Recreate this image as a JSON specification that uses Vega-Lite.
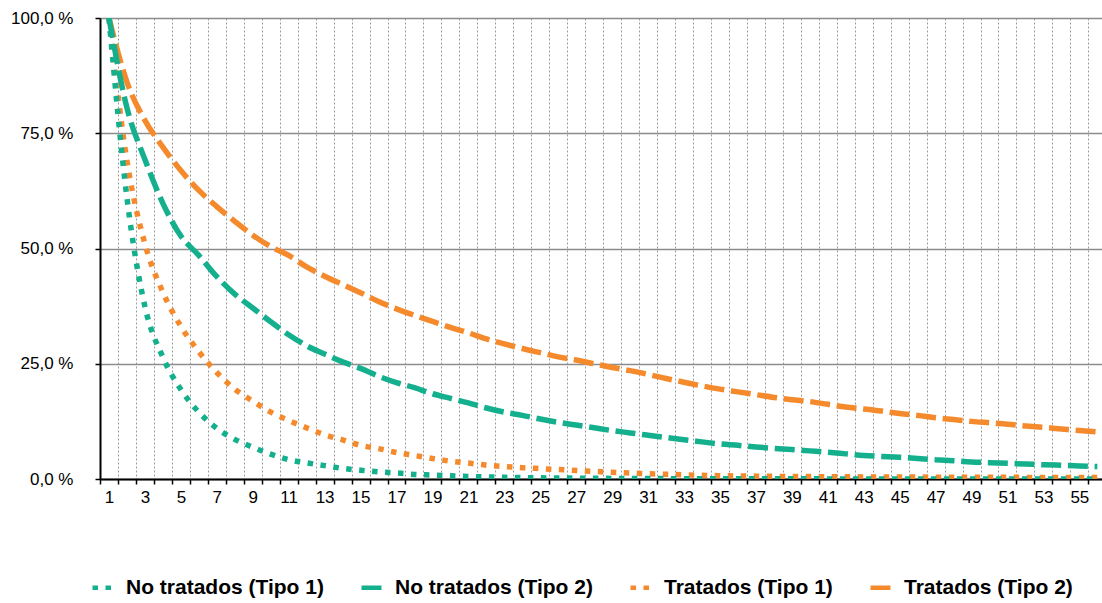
{
  "$schema": "https://vega.github.io/schema/vega-lite/v6.json",
  "width": 1002,
  "height": 461,
  "autosize": {"type": "none"},
  "padding": {"left": 100, "top": 18, "right": 0, "bottom": 124},
  "background": "white",
  "config": {
    "view": {"stroke": null},
    "font": "Liberation Sans"
  },
  "data": {
    "values": [
      {"dia":1,"No tratados (Tipo 1)":100,"No tratados (Tipo 2)":100,"Tratados (Tipo 1)":100,"Tratados (Tipo 2)":100},
      {"dia":2,"No tratados (Tipo 1)":61,"No tratados (Tipo 2)":80.5,"Tratados (Tipo 1)":69,"Tratados (Tipo 2)":86.1},
      {"dia":3,"No tratados (Tipo 1)":37.4,"No tratados (Tipo 2)":69.3,"Tratados (Tipo 1)":51,"Tratados (Tipo 2)":77.8},
      {"dia":4,"No tratados (Tipo 1)":26.4,"No tratados (Tipo 2)":59.8,"Tratados (Tipo 1)":40.5,"Tratados (Tipo 2)":72},
      {"dia":5,"No tratados (Tipo 1)":19.4,"No tratados (Tipo 2)":52.7,"Tratados (Tipo 1)":33.1,"Tratados (Tipo 2)":66.9},
      {"dia":6,"No tratados (Tipo 1)":14.5,"No tratados (Tipo 2)":48.5,"Tratados (Tipo 1)":27.6,"Tratados (Tipo 2)":62.6},
      {"dia":7,"No tratados (Tipo 1)":11,"No tratados (Tipo 2)":43.9,"Tratados (Tipo 1)":23.1,"Tratados (Tipo 2)":59.1},
      {"dia":8,"No tratados (Tipo 1)":8.6,"No tratados (Tipo 2)":40.1,"Tratados (Tipo 1)":19.5,"Tratados (Tipo 2)":55.9},
      {"dia":9,"No tratados (Tipo 1)":6.9,"No tratados (Tipo 2)":37.1,"Tratados (Tipo 1)":16.9,"Tratados (Tipo 2)":52.9},
      {"dia":10,"No tratados (Tipo 1)":5.4,"No tratados (Tipo 2)":34.1,"Tratados (Tipo 1)":14.5,"Tratados (Tipo 2)":50.4},
      {"dia":11,"No tratados (Tipo 1)":4.2,"No tratados (Tipo 2)":31.3,"Tratados (Tipo 1)":12.7,"Tratados (Tipo 2)":48.5},
      {"dia":12,"No tratados (Tipo 1)":3.5,"No tratados (Tipo 2)":28.9,"Tratados (Tipo 1)":11.1,"Tratados (Tipo 2)":46},
      {"dia":13,"No tratados (Tipo 1)":2.9,"No tratados (Tipo 2)":27.1,"Tratados (Tipo 1)":9.6,"Tratados (Tipo 2)":44},
      {"dia":14,"No tratados (Tipo 1)":2.3,"No tratados (Tipo 2)":25.4,"Tratados (Tipo 1)":8.5,"Tratados (Tipo 2)":42.2},
      {"dia":15,"No tratados (Tipo 1)":1.9,"No tratados (Tipo 2)":24,"Tratados (Tipo 1)":7.3,"Tratados (Tipo 2)":40.4},
      {"dia":16,"No tratados (Tipo 1)":1.55,"No tratados (Tipo 2)":22.3,"Tratados (Tipo 1)":6.6,"Tratados (Tipo 2)":38.5},
      {"dia":17,"No tratados (Tipo 1)":1.3,"No tratados (Tipo 2)":20.9,"Tratados (Tipo 1)":5.75,"Tratados (Tipo 2)":36.9},
      {"dia":18,"No tratados (Tipo 1)":1.0,"No tratados (Tipo 2)":19.8,"Tratados (Tipo 1)":5.1,"Tratados (Tipo 2)":35.5},
      {"dia":19,"No tratados (Tipo 1)":0.85,"No tratados (Tipo 2)":18.5,"Tratados (Tipo 1)":4.45,"Tratados (Tipo 2)":34.2},
      {"dia":20,"No tratados (Tipo 1)":0.7,"No tratados (Tipo 2)":17.5,"Tratados (Tipo 1)":3.85,"Tratados (Tipo 2)":32.9},
      {"dia":21,"No tratados (Tipo 1)":0.55,"No tratados (Tipo 2)":16.5,"Tratados (Tipo 1)":3.45,"Tratados (Tipo 2)":31.7},
      {"dia":22,"No tratados (Tipo 1)":0.45,"No tratados (Tipo 2)":15.4,"Tratados (Tipo 1)":3.0,"Tratados (Tipo 2)":30.4},
      {"dia":23,"No tratados (Tipo 1)":0.36,"No tratados (Tipo 2)":14.5,"Tratados (Tipo 1)":2.7,"Tratados (Tipo 2)":29.3},
      {"dia":24,"No tratados (Tipo 1)":0.3,"No tratados (Tipo 2)":13.8,"Tratados (Tipo 1)":2.45,"Tratados (Tipo 2)":28.3},
      {"dia":25,"No tratados (Tipo 1)":0.25,"No tratados (Tipo 2)":13,"Tratados (Tipo 1)":2.25,"Tratados (Tipo 2)":27.4},
      {"dia":26,"No tratados (Tipo 1)":0.21,"No tratados (Tipo 2)":12.3,"Tratados (Tipo 1)":2.05,"Tratados (Tipo 2)":26.5},
      {"dia":27,"No tratados (Tipo 1)":0.18,"No tratados (Tipo 2)":11.7,"Tratados (Tipo 1)":1.85,"Tratados (Tipo 2)":25.8},
      {"dia":28,"No tratados (Tipo 1)":0.15,"No tratados (Tipo 2)":11.1,"Tratados (Tipo 1)":1.65,"Tratados (Tipo 2)":25},
      {"dia":29,"No tratados (Tipo 1)":0.13,"No tratados (Tipo 2)":10.5,"Tratados (Tipo 1)":1.45,"Tratados (Tipo 2)":24.2},
      {"dia":30,"No tratados (Tipo 1)":0.11,"No tratados (Tipo 2)":10,"Tratados (Tipo 1)":1.3,"Tratados (Tipo 2)":23.5},
      {"dia":31,"No tratados (Tipo 1)":0.09,"No tratados (Tipo 2)":9.5,"Tratados (Tipo 1)":1.15,"Tratados (Tipo 2)":22.7},
      {"dia":32,"No tratados (Tipo 1)":0.08,"No tratados (Tipo 2)":9,"Tratados (Tipo 1)":1.02,"Tratados (Tipo 2)":21.8},
      {"dia":33,"No tratados (Tipo 1)":0.07,"No tratados (Tipo 2)":8.5,"Tratados (Tipo 1)":0.9,"Tratados (Tipo 2)":21},
      {"dia":34,"No tratados (Tipo 1)":0.06,"No tratados (Tipo 2)":8.05,"Tratados (Tipo 1)":0.8,"Tratados (Tipo 2)":20.2},
      {"dia":35,"No tratados (Tipo 1)":0.05,"No tratados (Tipo 2)":7.6,"Tratados (Tipo 1)":0.72,"Tratados (Tipo 2)":19.5},
      {"dia":36,"No tratados (Tipo 1)":0.045,"No tratados (Tipo 2)":7.3,"Tratados (Tipo 1)":0.66,"Tratados (Tipo 2)":18.9},
      {"dia":37,"No tratados (Tipo 1)":0.04,"No tratados (Tipo 2)":6.95,"Tratados (Tipo 1)":0.62,"Tratados (Tipo 2)":18.3},
      {"dia":38,"No tratados (Tipo 1)":0.036,"No tratados (Tipo 2)":6.65,"Tratados (Tipo 1)":0.58,"Tratados (Tipo 2)":17.7},
      {"dia":39,"No tratados (Tipo 1)":0.032,"No tratados (Tipo 2)":6.4,"Tratados (Tipo 1)":0.55,"Tratados (Tipo 2)":17.2},
      {"dia":40,"No tratados (Tipo 1)":0.029,"No tratados (Tipo 2)":6.1,"Tratados (Tipo 1)":0.52,"Tratados (Tipo 2)":16.8},
      {"dia":41,"No tratados (Tipo 1)":0.026,"No tratados (Tipo 2)":5.8,"Tratados (Tipo 1)":0.5,"Tratados (Tipo 2)":16.2},
      {"dia":42,"No tratados (Tipo 1)":0.023,"No tratados (Tipo 2)":5.45,"Tratados (Tipo 1)":0.48,"Tratados (Tipo 2)":15.6},
      {"dia":43,"No tratados (Tipo 1)":0.02,"No tratados (Tipo 2)":5.1,"Tratados (Tipo 1)":0.46,"Tratados (Tipo 2)":15.2},
      {"dia":44,"No tratados (Tipo 1)":0.018,"No tratados (Tipo 2)":4.9,"Tratados (Tipo 1)":0.44,"Tratados (Tipo 2)":14.75},
      {"dia":45,"No tratados (Tipo 1)":0.016,"No tratados (Tipo 2)":4.7,"Tratados (Tipo 1)":0.42,"Tratados (Tipo 2)":14.2},
      {"dia":46,"No tratados (Tipo 1)":0.014,"No tratados (Tipo 2)":4.45,"Tratados (Tipo 1)":0.41,"Tratados (Tipo 2)":13.8},
      {"dia":47,"No tratados (Tipo 1)":0.013,"No tratados (Tipo 2)":4.2,"Tratados (Tipo 1)":0.4,"Tratados (Tipo 2)":13.3},
      {"dia":48,"No tratados (Tipo 1)":0.012,"No tratados (Tipo 2)":3.95,"Tratados (Tipo 1)":0.39,"Tratados (Tipo 2)":12.9},
      {"dia":49,"No tratados (Tipo 1)":0.011,"No tratados (Tipo 2)":3.7,"Tratados (Tipo 1)":0.38,"Tratados (Tipo 2)":12.5},
      {"dia":50,"No tratados (Tipo 1)":0.01,"No tratados (Tipo 2)":3.55,"Tratados (Tipo 1)":0.37,"Tratados (Tipo 2)":12.2},
      {"dia":51,"No tratados (Tipo 1)":0.009,"No tratados (Tipo 2)":3.4,"Tratados (Tipo 1)":0.36,"Tratados (Tipo 2)":11.9},
      {"dia":52,"No tratados (Tipo 1)":0.008,"No tratados (Tipo 2)":3.25,"Tratados (Tipo 1)":0.35,"Tratados (Tipo 2)":11.5},
      {"dia":53,"No tratados (Tipo 1)":0.007,"No tratados (Tipo 2)":3.1,"Tratados (Tipo 1)":0.34,"Tratados (Tipo 2)":11.2},
      {"dia":54,"No tratados (Tipo 1)":0.006,"No tratados (Tipo 2)":2.97,"Tratados (Tipo 1)":0.33,"Tratados (Tipo 2)":10.85},
      {"dia":55,"No tratados (Tipo 1)":0.006,"No tratados (Tipo 2)":2.84,"Tratados (Tipo 1)":0.32,"Tratados (Tipo 2)":10.5},
      {"dia":56,"No tratados (Tipo 1)":0.005,"No tratados (Tipo 2)":2.7,"Tratados (Tipo 1)":0.31,"Tratados (Tipo 2)":10.2}
    ]
  },
  "transform": [
    {"fold": ["No tratados (Tipo 1)", "No tratados (Tipo 2)", "Tratados (Tipo 1)", "Tratados (Tipo 2)"], "as": ["serie", "valor"]}
  ],
  "encoding": {
    "x": {
      "field": "dia",
      "type": "quantitative",
      "scale": {"domain": [0.5, 56.26], "nice": false, "zero": false},
      "axis": {
        "title": null,
        "values": [0.5,1,1.5,2.5,3,3.5,4.5,5,5.5,6.5,7,7.5,8.5,9,9.5,10.5,11,11.5,12.5,13,13.5,14.5,15,15.5,16.5,17,17.5,18.5,19,19.5,20.5,21,21.5,22.5,23,23.5,24.5,25,25.5,26.5,27,27.5,28.5,29,29.5,30.5,31,31.5,32.5,33,33.5,34.5,35,35.5,36.5,37,37.5,38.5,39,39.5,40.5,41,41.5,42.5,43,43.5,44.5,45,45.5,46.5,47,47.5,48.5,49,49.5,50.5,51,51.5,52.5,53,53.5,54.5,55,55.5],
        "grid": true,
        "gridDash": [2, 2],
        "gridColor": "#9a9a9a",
        "gridWidth": 1,
        "gridOpacity": {"condition": {"test": "datum.value % 1 !== 0", "value": 1}, "value": 0},
        "tickOpacity": {"condition": {"test": "datum.value % 1 !== 0", "value": 1}, "value": 0},
        "tickSize": 5,
        "tickColor": "#000000",
        "tickWidth": 1.5,
        "domainColor": "#000000",
        "domainWidth": 2,
        "labelExpr": "datum.value % 2 === 1 ? format(datum.value, 'd') : ''",
        "labelFont": "Liberation Sans",
        "labelFontSize": 17,
        "labelColor": "#000000",
        "labelPadding": 5,
        "labelOverlap": false,
        "labelFlush": false,
        "labelBound": false
      }
    },
    "y": {
      "field": "valor",
      "type": "quantitative",
      "scale": {"domain": [0, 100], "nice": false},
      "axis": {
        "title": null,
        "values": [0, 25, 50, 75, 100],
        "grid": true,
        "gridColor": "#8c8c8c",
        "gridWidth": 1.5,
        "tickSize": 5,
        "tickColor": "#000000",
        "tickWidth": 1.5,
        "domainColor": "#000000",
        "domainWidth": 2,
        "labelExpr": "replace(format(datum.value, '.1f'), '.', ',') + ' %'",
        "labelFont": "Liberation Sans",
        "labelFontSize": 17,
        "labelColor": "#000000",
        "labelPadding": 22
      }
    },
    "color": {
      "field": "serie",
      "type": "nominal",
      "scale": {
        "domain": ["No tratados (Tipo 1)", "No tratados (Tipo 2)", "Tratados (Tipo 1)", "Tratados (Tipo 2)"],
        "range": ["#14b08e", "#14b08e", "#f58a2d", "#f58a2d"]
      },
      "legend": {
        "title": null,
        "orient": "none",
        "legendX": -10,
        "legendY": 557,
        "direction": "horizontal",
        "symbolType": "stroke",
        "symbolSize": 400,
        "symbolStrokeWidth": 4.5,
        "labelFont": "Liberation Sans",
        "labelFontSize": 21,
        "labelFontWeight": "bold",
        "labelColor": "#000000",
        "labelOffset": 11,
        "labelLimit": 0,
        "columnPadding": 28,
        "padding": 0,
        "encode": {
          "symbols": {
            "update": {
              "strokeDash": [
                {"test": "indexof(datum.value, 'Tipo 1') >= 0", "value": [4, 2.7]},
                {"value": [9, 3.3]}
              ]
            }
          }
        }
      }
    },
    "strokeDash": {
      "field": "serie",
      "type": "nominal",
      "scale": {
        "domain": ["No tratados (Tipo 1)", "No tratados (Tipo 2)", "Tratados (Tipo 1)", "Tratados (Tipo 2)"],
        "range": [[5.5, 7.5], [20, 6.7], [5.5, 7.5], [20, 6.7]]
      }
    }
  },
  "layer": [
    {
      "transform": [{"filter": {"field": "serie", "oneOf": ["Tratados (Tipo 1)", "Tratados (Tipo 2)"]}}],
      "mark": {"type": "line", "strokeWidth": 5.5, "strokeCap": "butt", "interpolate": "monotone", "clip": true}
    },
    {
      "transform": [{"filter": {"field": "serie", "oneOf": ["No tratados (Tipo 1)", "No tratados (Tipo 2)"]}}],
      "mark": {"type": "line", "strokeWidth": 5.5, "strokeCap": "butt", "interpolate": "monotone", "clip": true}
    }
  ]
}
